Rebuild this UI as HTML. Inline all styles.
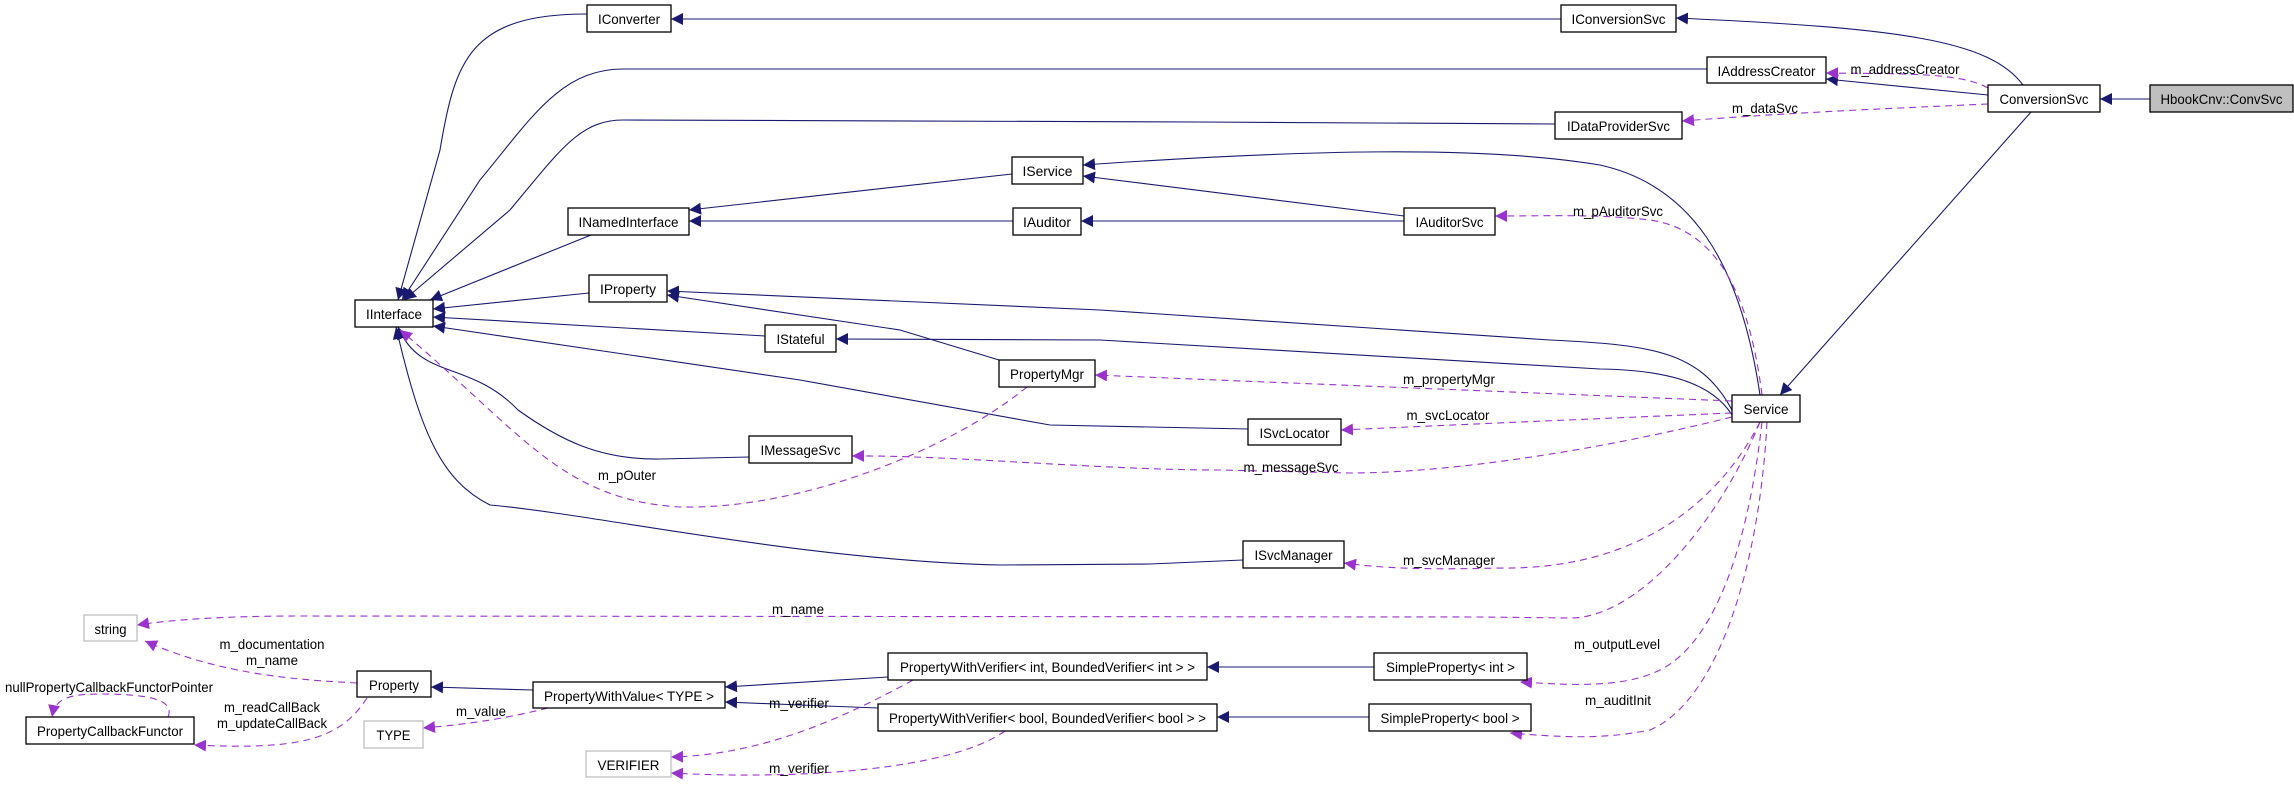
<!DOCTYPE html>
<html><head><meta charset="utf-8"><style>
html,body{margin:0;padding:0;background:#fff;}
svg{display:block;font-family:"Liberation Sans",sans-serif;}
.b{fill:#fff;stroke:#000;stroke-width:1.3}
.g{fill:#fff;stroke:#bfbfbf;stroke-width:1.3}
.s{fill:none;stroke:#191970;stroke-width:1.1}
.d{fill:none;stroke:#9a32cd;stroke-width:1.1;stroke-dasharray:7,5}
text{font-size:14px;fill:#000}
</style></head><body>
<svg width="2294" height="790" viewBox="0 0 2294 790" xmlns="http://www.w3.org/2000/svg">
<defs>
<marker id="a" markerUnits="userSpaceOnUse" markerWidth="14" markerHeight="12" refX="12" refY="6" orient="auto"><path d="M0,0 L12,6 L0,12 z" fill="#191970"/></marker>
<marker id="p" markerUnits="userSpaceOnUse" markerWidth="14" markerHeight="12" refX="12" refY="6" orient="auto"><path d="M0,0 L12,6 L0,12 z" fill="#9a32cd"/></marker>
</defs>
<g class="s">
<path d="M1561,19 L671,19" marker-end="url(#a)"/>
<path d="M2023,85 C1990,40 1900,28 1676,18" marker-end="url(#a)"/>
<path d="M2150,99 L2100,99" marker-end="url(#a)"/>
<path d="M1988,95 L1826,79" marker-end="url(#a)"/>
<path d="M2031,112 L1780,395" marker-end="url(#a)"/>
<path d="M587,14 C470,14 455,60 440,150 L398,300" marker-end="url(#a)"/>
<path d="M1707,69 L623,69 C560,69 530,120 480,180 L402,300" marker-end="url(#a)"/>
<path d="M1555,124 L1200,122 L623,120 C580,120 560,150 510,210 L404,300" marker-end="url(#a)"/>
<path d="M1012,174 L689,210" marker-end="url(#a)"/>
<path d="M1013,221 L689,221" marker-end="url(#a)"/>
<path d="M591,235 L430,300" marker-end="url(#a)"/>
<path d="M1404,216 L1083,176" marker-end="url(#a)"/>
<path d="M1404,221 L1081,221" marker-end="url(#a)"/>
<path d="M1760,395 C1740,260 1690,185 1600,165 C1480,145 1300,150 1083,165" marker-end="url(#a)"/>
<path d="M589,293 L433,309" marker-end="url(#a)"/>
<path d="M1732,410 C1700,350 1650,345 1550,340 L1100,310 L667,291" marker-end="url(#a)"/>
<path d="M999,360 L900,330 L667,295" marker-end="url(#a)"/>
<path d="M765,336 L433,317" marker-end="url(#a)"/>
<path d="M1732,415 C1710,380 1660,370 1600,369 L1100,340 L836,339" marker-end="url(#a)"/>
<path d="M1248,429 L1050,425 L800,380 L433,326" marker-end="url(#a)"/>
<path d="M749,457 L660,459 C600,460 560,440 518,410 C470,360 420,380 398,327" marker-end="url(#a)"/>
<path d="M1243,560 L1150,564 L1000,565 C800,560 600,515 490,505 C440,480 420,430 396,327" marker-end="url(#a)"/>
<path d="M533,690 L431,687" marker-end="url(#a)"/>
<path d="M888,677 L725,687" marker-end="url(#a)"/>
<path d="M878,708 L800,705 L725,702" marker-end="url(#a)"/>
<path d="M1374,667 L1207,667" marker-end="url(#a)"/>
<path d="M1369,717 L1217,717" marker-end="url(#a)"/>
</g>
<g class="d">
<path d="M1988,88 C1960,72 1900,74 1826,73" marker-end="url(#p)"/>
<path d="M1988,104 C1900,108 1800,112 1682,121" marker-end="url(#p)"/>
<path d="M1762,395 C1750,300 1720,230 1650,220 C1600,214 1550,216 1495,216" marker-end="url(#p)"/>
<path d="M1732,401 L1095,375" marker-end="url(#p)"/>
<path d="M1732,413 L1520,422 L1341,430" marker-end="url(#p)"/>
<path d="M1732,417 C1600,450 1450,473 1350,473 L1220,470 C1100,470 950,455 852,456" marker-end="url(#p)"/>
<path d="M1027,387 C950,450 800,510 680,507 C560,500 520,430 400,330" marker-end="url(#p)"/>
<path d="M1760,422 C1720,500 1640,570 1500,568 C1420,570 1380,568 1344,563" marker-end="url(#p)"/>
<path d="M1760,422 C1720,520 1640,618 1570,618 L1480,617 L300,616 C220,616 170,620 137,625" marker-end="url(#p)"/>
<path d="M1762,422 C1750,530 1720,640 1660,670 C1620,690 1560,684 1520,682" marker-end="url(#p)"/>
<path d="M1767,422 C1760,560 1720,700 1650,730 C1600,740 1560,737 1510,733" marker-end="url(#p)"/>
<path d="M357,683 C300,680 220,675 145,641" marker-end="url(#p)"/>
<path d="M367,698 C340,740 300,750 194,745" marker-end="url(#p)"/>
<path d="M168,717 C175,700 150,694 100,694 C65,694 55,700 52,717" marker-end="url(#p)"/>
<path d="M548,708 C500,720 460,725 423,728" marker-end="url(#p)"/>
<path d="M913,680 C840,720 760,755 671,757" marker-end="url(#p)"/>
<path d="M1005,731 C950,770 800,780 671,773" marker-end="url(#p)"/>
</g>
<rect class="b" x="587" y="5" width="84" height="27"/>
<rect class="b" x="568" y="208" width="121" height="27"/>
<rect class="b" x="1012" y="157" width="71" height="27"/>
<rect class="b" x="1013" y="208" width="68" height="27"/>
<rect class="b" x="589" y="275" width="78" height="27"/>
<rect class="b" x="355" y="300" width="78" height="27"/>
<rect class="b" x="765" y="325" width="71" height="27"/>
<rect class="b" x="999" y="360" width="96" height="27"/>
<rect class="b" x="1561" y="5" width="115" height="27"/>
<rect class="b" x="1707" y="57" width="119" height="26"/>
<rect class="b" x="1988" y="85" width="112" height="27"/>
<rect x="2150" y="85" width="143" height="27" fill="#bfbfbf" stroke="#000" stroke-width="1.3"/>
<rect class="b" x="1555" y="112" width="127" height="27"/>
<rect class="b" x="1404" y="208" width="91" height="27"/>
<rect class="b" x="1732" y="395" width="68" height="27"/>
<rect class="b" x="749" y="436" width="103" height="27"/>
<rect class="g" x="84" y="615" width="53" height="26"/>
<rect class="b" x="357" y="671" width="74" height="26"/>
<rect class="b" x="533" y="682" width="192" height="26"/>
<rect class="b" x="888" y="653" width="319" height="27"/>
<rect class="b" x="878" y="704" width="339" height="27"/>
<rect class="b" x="26" y="717" width="168" height="27"/>
<rect class="g" x="364" y="721" width="59" height="27"/>
<rect class="g" x="586" y="751" width="85" height="26"/>
<rect class="b" x="1248" y="419" width="93" height="26"/>
<rect class="b" x="1243" y="541" width="101" height="27"/>
<rect class="b" x="1374" y="653" width="153" height="27"/>
<rect class="b" x="1369" y="704" width="162" height="27"/>
<g text-anchor="middle">
<text x="629" y="24" textLength="62" lengthAdjust="spacingAndGlyphs">IConverter</text>
<text x="628.5" y="227" textLength="100" lengthAdjust="spacingAndGlyphs">INamedInterface</text>
<text x="1047.5" y="176" textLength="50" lengthAdjust="spacingAndGlyphs">IService</text>
<text x="1047" y="227" textLength="48" lengthAdjust="spacingAndGlyphs">IAuditor</text>
<text x="628" y="294" textLength="56" lengthAdjust="spacingAndGlyphs">IProperty</text>
<text x="394" y="319" textLength="56" lengthAdjust="spacingAndGlyphs">IInterface</text>
<text x="800.5" y="344" textLength="48" lengthAdjust="spacingAndGlyphs">IStateful</text>
<text x="1047" y="379" textLength="74" lengthAdjust="spacingAndGlyphs">PropertyMgr</text>
<text x="1618.5" y="24" textLength="94" lengthAdjust="spacingAndGlyphs">IConversionSvc</text>
<text x="1766.5" y="76" textLength="98" lengthAdjust="spacingAndGlyphs">IAddressCreator</text>
<text x="2044" y="104" textLength="89" lengthAdjust="spacingAndGlyphs">ConversionSvc</text>
<text x="2221.5" y="104" textLength="122" lengthAdjust="spacingAndGlyphs">HbookCnv::ConvSvc</text>
<text x="1618.5" y="131" textLength="103" lengthAdjust="spacingAndGlyphs">IDataProviderSvc</text>
<text x="1449.5" y="227" textLength="68" lengthAdjust="spacingAndGlyphs">IAuditorSvc</text>
<text x="1766" y="414" textLength="45" lengthAdjust="spacingAndGlyphs">Service</text>
<text x="800.5" y="455" textLength="80" lengthAdjust="spacingAndGlyphs">IMessageSvc</text>
<text x="110.5" y="634" textLength="32" lengthAdjust="spacingAndGlyphs">string</text>
<text x="394" y="690" textLength="50" lengthAdjust="spacingAndGlyphs">Property</text>
<text x="629" y="701" textLength="170" lengthAdjust="spacingAndGlyphs">PropertyWithValue&lt; TYPE &gt;</text>
<text x="1047.5" y="672" textLength="295" lengthAdjust="spacingAndGlyphs">PropertyWithVerifier&lt; int, BoundedVerifier&lt; int &gt; &gt;</text>
<text x="1047.5" y="723" textLength="317" lengthAdjust="spacingAndGlyphs">PropertyWithVerifier&lt; bool, BoundedVerifier&lt; bool &gt; &gt;</text>
<text x="110" y="736" textLength="146" lengthAdjust="spacingAndGlyphs">PropertyCallbackFunctor</text>
<text x="393.5" y="740" textLength="34" lengthAdjust="spacingAndGlyphs">TYPE</text>
<text x="628.5" y="770" textLength="62" lengthAdjust="spacingAndGlyphs">VERIFIER</text>
<text x="1294.5" y="438" textLength="70" lengthAdjust="spacingAndGlyphs">ISvcLocator</text>
<text x="1293.5" y="560" textLength="78" lengthAdjust="spacingAndGlyphs">ISvcManager</text>
<text x="1450.5" y="672" textLength="129" lengthAdjust="spacingAndGlyphs">SimpleProperty&lt; int &gt;</text>
<text x="1450" y="723" textLength="139" lengthAdjust="spacingAndGlyphs">SimpleProperty&lt; bool &gt;</text>
</g>
<g text-anchor="middle">
<text x="1905" y="74" textLength="109" lengthAdjust="spacingAndGlyphs">m_addressCreator</text>
<text x="1765" y="113" textLength="66" lengthAdjust="spacingAndGlyphs">m_dataSvc</text>
<text x="1618" y="216" textLength="90" lengthAdjust="spacingAndGlyphs">m_pAuditorSvc</text>
<text x="1449" y="384" textLength="92" lengthAdjust="spacingAndGlyphs">m_propertyMgr</text>
<text x="1448" y="420" textLength="83" lengthAdjust="spacingAndGlyphs">m_svcLocator</text>
<text x="1291" y="472" textLength="95" lengthAdjust="spacingAndGlyphs">m_messageSvc</text>
<text x="1449" y="565" textLength="92" lengthAdjust="spacingAndGlyphs">m_svcManager</text>
<text x="1617" y="649" textLength="86" lengthAdjust="spacingAndGlyphs">m_outputLevel</text>
<text x="1618" y="705" textLength="66" lengthAdjust="spacingAndGlyphs">m_auditInit</text>
<text x="627" y="480" textLength="58" lengthAdjust="spacingAndGlyphs">m_pOuter</text>
<text x="798" y="614" textLength="52" lengthAdjust="spacingAndGlyphs">m_name</text>
<text x="272" y="649" textLength="105" lengthAdjust="spacingAndGlyphs">m_documentation</text>
<text x="272" y="665" textLength="52" lengthAdjust="spacingAndGlyphs">m_name</text>
<text x="109" y="692" textLength="208" lengthAdjust="spacingAndGlyphs">nullPropertyCallbackFunctorPointer</text>
<text x="272" y="712" textLength="96" lengthAdjust="spacingAndGlyphs">m_readCallBack</text>
<text x="272" y="728" textLength="110" lengthAdjust="spacingAndGlyphs">m_updateCallBack</text>
<text x="481" y="716" textLength="50" lengthAdjust="spacingAndGlyphs">m_value</text>
<text x="799" y="708" textLength="60" lengthAdjust="spacingAndGlyphs">m_verifier</text>
<text x="799" y="773" textLength="60" lengthAdjust="spacingAndGlyphs">m_verifier</text>
</g>
</svg>
</body></html>
